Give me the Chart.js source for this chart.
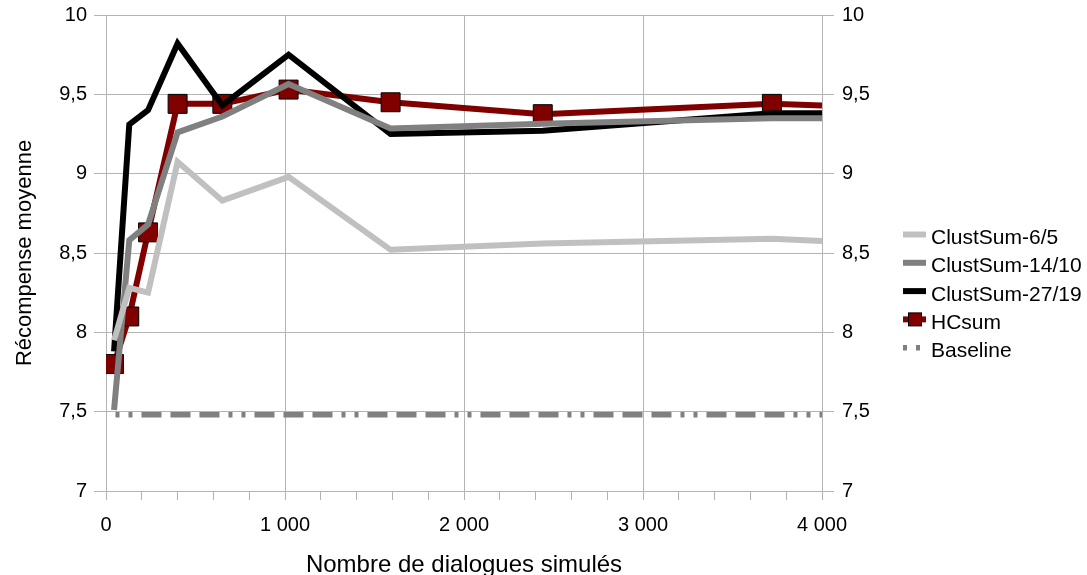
<!DOCTYPE html>
<html><head><meta charset="utf-8">
<script src="https://cdn.jsdelivr.net/npm/chart.js@4"></script>
<style>html,body{margin:0;padding:0;background:#fff;} #wrap{position:relative;width:1087px;height:575px;}</style>
</head><body><div id="wrap"><canvas id="c" width="1087" height="575"></canvas></div>
<script>
// ---- data ----
const dialogues   = [45, 130, 235, 400, 650, 1020, 1590, 2440, 3720, 4000];
const clust6_5    = [7.95, 8.28, 8.25, 9.075, 8.83, 8.98, 8.52, 8.56, 8.59, 8.575];
const clust14_10  = [7.51, 8.58, 8.68, 9.26, 9.36, 9.565, 9.285, 9.315, 9.35, 9.35];
const clust27_19  = [7.88, 9.31, 9.40, 9.82, 9.43, 9.75, 9.25, 9.27, 9.38, 9.38];
const hcsum       = [7.80, 8.10, 8.63, 9.44, 9.44, 9.53, 9.45, 9.375, 9.44, 9.43];
const baselineX   = [53, 4000];
const baselineY   = [7.48, 7.48];
const seriesNames = ['ClustSum-6/5', 'ClustSum-14/10', 'ClustSum-27/19', 'HCsum', 'Baseline'];
const yTickValues = [7, 7.5, 8, 8.5, 9, 9.5, 10];
const xMajorTicks = [0, 1000, 2000, 3000, 4000];
const xTitle = 'Nombre de dialogues simulés';
const yTitle = 'Récompense moyenne';

const FONT = '"Liberation Sans", Arial, sans-serif';
const GRID = '#b3b3b3';
const BASE_DASH = [4, 9, 4, 9, 20, 9, 20, 9, 20, 9];

const pts = (xs, ys) => xs.map((x, i) => ({x: x, y: ys[i]}));
const lastIdx = dialogues.length - 1;

const datasets = [
  {label: seriesNames[0], data: pts(dialogues, clust6_5), borderColor: '#c0c0c0', borderWidth: 6, pointRadius: 0},
  {label: seriesNames[1], data: pts(dialogues, clust14_10), borderColor: '#808080', borderWidth: 6, pointRadius: 0},
  {label: seriesNames[2], data: pts(dialogues, clust27_19), borderColor: '#000000', borderWidth: 6, pointRadius: 0},
  {label: seriesNames[3], data: pts(dialogues, hcsum), borderColor: '#800000', borderWidth: 6,
    pointStyle: 'rect', pointRadius: (c) => c.dataIndex === lastIdx ? 0 : 13.4,
    pointBackgroundColor: '#800000', pointBorderColor: '#000000', pointBorderWidth: 1},
  {label: seriesNames[4], data: pts(baselineX, baselineY), borderColor: '#808080', borderWidth: 5.5, pointRadius: 0,
    borderDash: BASE_DASH}
];
datasets.forEach(d => { d.fill = false; d.tension = 0; d.borderJoinStyle = 'miter'; d.borderCapStyle = 'butt'; });

const legendPlugin = {
  id: 'sideLegend',
  afterDraw(chart) {
    const ctx = chart.ctx;
    ctx.save();
    ctx.font = '21px ' + FONT;
    ctx.fillStyle = '#000';
    ctx.textBaseline = 'alphabetic';
    ctx.textAlign = 'left';
    chart.data.datasets.forEach((ds, i) => {
      const base = 244 + i * 28.3;
      const ly = base - 9.5;
      ctx.save();
      ctx.strokeStyle = ds.borderColor;
      ctx.lineWidth = ds.borderWidth;
      ctx.lineCap = 'butt';
      ctx.setLineDash(ds.borderDash || []);
      ctx.beginPath(); ctx.moveTo(903, ly); ctx.lineTo(926, ly); ctx.stroke();
      ctx.setLineDash([]);
      if (ds.pointStyle === 'rect') {
        ctx.fillStyle = ds.pointBackgroundColor;
        ctx.strokeStyle = ds.pointBorderColor;
        ctx.lineWidth = 1;
        ctx.fillRect(908.5, ly - 6.5, 13, 13);
        ctx.strokeRect(908.5, ly - 6.5, 13, 13);
      }
      ctx.restore();
      ctx.fillText(ds.label, 931, base);
    });
    ctx.restore();
  }
};

const fmtNum = (v) => {
  const s = String(v).replace('.', ',');
  return s.replace(/\B(?=(\d{3})+(?!\d))/g, ' ');
};

new Chart(document.getElementById('c'), {
  type: 'line',
  data: {datasets: datasets},
  plugins: [legendPlugin],
  options: {
    responsive: false,
    animation: false,
    devicePixelRatio: 1,
    layout: {padding: {left: 0, top: 15, right: 185, bottom: 0}},
    plugins: {legend: {display: false}, tooltip: {enabled: false}},
    scales: {
      x: {
        type: 'linear', min: 0, max: 4000,
        afterFit: (s) => { s.height = 84; s.paddingLeft = 0; s.paddingRight = 0; },
        ticks: {stepSize: 200, autoSkip: false, maxRotation: 0, color: '#000', padding: 13,
          font: {family: FONT, size: 20},
          callback: (v) => xMajorTicks.includes(v) ? fmtNum(v) : ''},
        grid: {color: (c) => (c.tick && xMajorTicks.includes(c.tick.value)) ? GRID : 'rgba(0,0,0,0)',
          tickColor: GRID, tickLength: 9, lineWidth: 1},
        border: {color: GRID},
        title: {display: true, text: xTitle, color: '#000', font: {family: FONT, size: 24}, padding: {top: 0, bottom: -5}}
      },
      y: {
        type: 'linear', min: 7, max: 10, position: 'left',
        afterFit: (s) => { s.width = 106; s.paddingTop = 0; s.paddingBottom = 0; },
        afterBuildTicks: (s) => { s.ticks = yTickValues.map(v => ({value: v})); },
        ticks: {color: '#000', padding: 7, font: {family: FONT, size: 20}, callback: (v) => fmtNum(v)},
        grid: {color: GRID, tickLength: 12},
        border: {color: GRID},
        title: {display: true, text: yTitle, color: '#000', font: {family: FONT, size: 22}, padding: {top: 12, bottom: 0}}
      },
      y2: {
        type: 'linear', min: 7, max: 10, position: 'right',
        afterFit: (s) => { s.width = 80; s.paddingTop = 0; s.paddingBottom = 0; },
        afterBuildTicks: (s) => { s.ticks = yTickValues.map(v => ({value: v})); },
        ticks: {color: '#000', padding: 8, font: {family: FONT, size: 20}, callback: (v) => fmtNum(v)},
        grid: {drawOnChartArea: false, color: GRID, tickLength: 12},
        border: {color: GRID}
      }
    }
  }
});
</script>
</body></html>
